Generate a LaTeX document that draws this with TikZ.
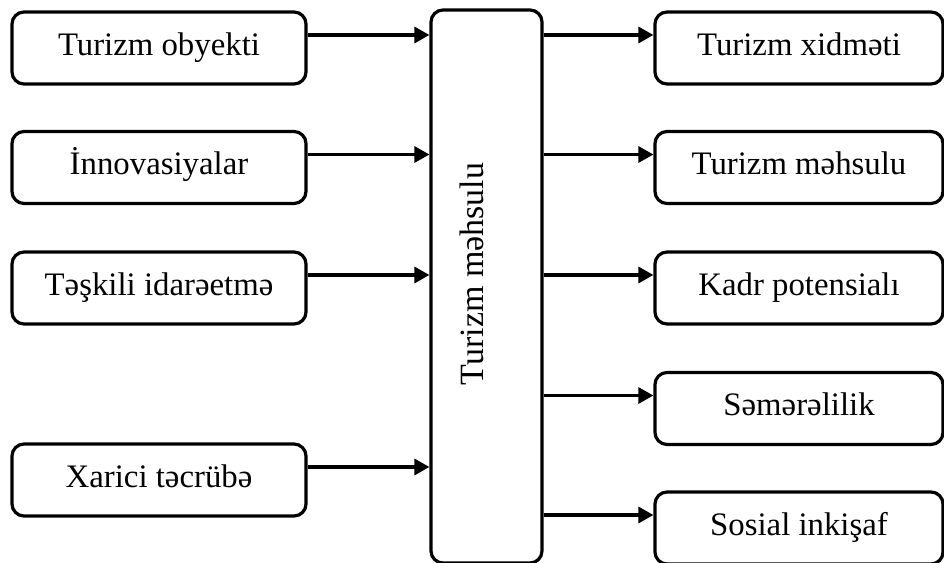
\documentclass[tikz,border=0pt]{standalone}
\usepackage{fontspec}
\setmainfont{Liberation Serif}
\usetikzlibrary{arrows.meta,positioning}
\begin{document}
\begin{tikzpicture}[x=1pt,y=-1pt,
  box/.style={draw,line width=3.2pt,rounded corners=12pt,inner sep=0pt,
    minimum height=72pt,text height=24pt,text depth=10pt,
    font=\fontsize{32.8}{38}\selectfont},
  lbox/.style={box,minimum width=294pt},
  rbox/.style={box,minimum width=288pt},
  arr/.style={line width=3.2pt,-{Triangle[length=15pt,width=16pt]}}]
\useasboundingbox (0,0) rectangle (944,562);

% input factors
\node[lbox] (l1) at (159,48)    {Turizm obyekti};
\node[lbox] (l2) at (159,167.5) {İnnovasiyalar};
\node[lbox] (l3) at (159,288)   {Təşkili idarəetmə};
\node[lbox] (l4) at (159,480)   {Xarici təcrübə};

% central block
\node[draw,line width=3.2pt,rounded corners=12pt,minimum width=111pt,
  minimum height=553pt,inner sep=0pt] (c) at (486.5,286.5) {};
\node[rotate=90,anchor=base,inner sep=0pt,font=\fontsize{34}{40}\selectfont]
  (ct) at (483,274) {Turizm məhsulu};

% outcomes
\node[rbox] (r1) at (799,48)    {Turizm xidməti};
\node[rbox] (r2) at (799,167.5) {Turizm məhsulu};
\node[rbox] (r3) at (799,288)   {Kadr potensialı};
\node[rbox] (r4) at (799,408.5) {Səmərəlilik};
\node[rbox] (r5) at (799,528)   {Sosial inkişaf};

% connectors
\foreach \i in {1,2,3,4}{
  \path ([yshift=13pt]l\i.east) coordinate (a\i);
  \draw[arr] (a\i) -- (a\i -| c.west);
}
\foreach \i in {1,2,3,4,5}{
  \path ([yshift=13pt]r\i.west) coordinate (b\i);
  \draw[arr] (b\i -| c.east) -- (b\i);
}
\end{tikzpicture}
\end{document}
